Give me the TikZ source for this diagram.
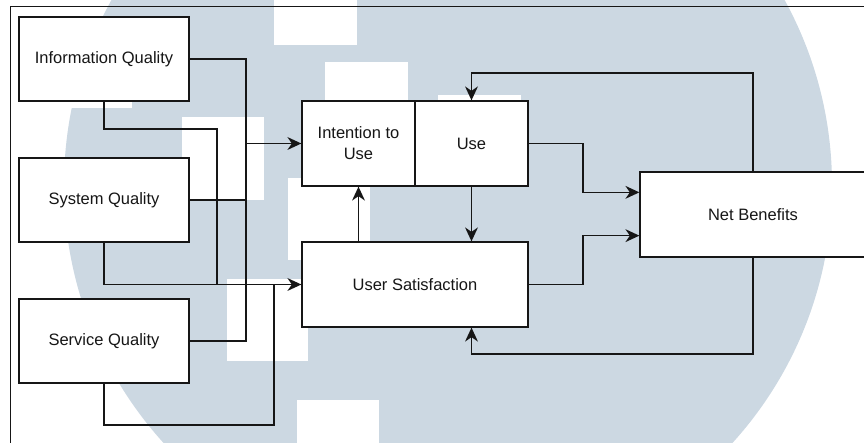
\documentclass[tikz,border=0pt]{standalone}
\usepackage{fontspec}
\setmainfont{Liberation Sans}
\usetikzlibrary{arrows.meta,calc}

\definecolor{wmblue}{RGB}{204,216,226}
\definecolor{ink}{RGB}{22,22,22}

\tikzset{
  box/.style={draw=ink, fill=white, line width=1.3pt, minimum width=226pt,
    minimum height=85pt, inner sep=2pt, align=center, text=ink,
    font=\fontsize{16.5}{21}\selectfont},
  srcbox/.style={box, minimum width=170pt, minimum height=84pt},
  halfbox/.style={box, minimum width=113pt},
  link/.style={draw=ink, line width=1.3pt},
  tipA/.tip={Stealth[length=14pt,width=13pt,inset=4.5pt,line width=0pt]},
  arrow/.style={link, -tipA},
}

\begin{document}
\begin{tikzpicture}[x=1pt, y=-1pt]
\useasboundingbox (0,0) rectangle (864,443);

% background emblem: a pale disc with square cut-outs
\begin{scope}
  \clip (0,0) rectangle (864,443);
  \fill[wmblue] (448,185) circle[radius=384pt];
  \fill[white] (274,0) rectangle (357,45);
  \fill[white] (49,25) rectangle (132,108);
  \fill[white] (325,62) rectangle (408,145);
  \fill[white] (438,95) rectangle (521,178);
  \fill[white] (182,117) rectangle (264,200);
  \fill[white] (288,178) rectangle (370,260);
  \fill[white] (227,279) rectangle (308,361);
  \fill[white] (297,400) rectangle (379,483);
\end{scope}

% outer frame
\draw[ink, line width=1pt] (10,443) -- (10,7) -- (864,7);

% quality boxes
\node[srcbox] (iq)  at (104,59)  {Information Quality};
\node[srcbox] (sq)  at (104,200) {System Quality};
\node[srcbox] (svq) at (104,341) {Service Quality};

% central boxes
\node[halfbox] (itu) at (358.5,143.5) {Intention to\\Use};
\node[halfbox] (use) at (471.5,143.5) {Use};
\node[box] (us) at (415,284.5) {User Satisfaction};
\node[box] (nb) at (753,214.5) {Net Benefits};

% routing points
\coordinate (busA) at (246,59);
\coordinate (busB) at (217,129);
\coordinate (busC) at (274,425);
\coordinate (jU) at (583,143.5);
\coordinate (jS) at (583,284.5);
\coordinate (topR) at (753,73);
\coordinate (botR) at (753,354);
\coordinate (nbA) at ([yshift=-21pt]nb.north west);
\coordinate (nbB) at ([yshift=22pt]nb.south west);

% inputs to Intention to Use
\draw[link] (iq.east) -- (busA) |- (svq.east);
\draw[link] (sq.east) -- (sq.east -| busA);
\draw[arrow] (busA |- itu.west) -- (itu.west);

% inputs to User Satisfaction
\draw[link] (iq.south) |- (busB) -- (busB |- us.west);
\draw[arrow] (sq.south) |- (us.west);
\draw[link] (svq.south) |- (busC) -- (busC |- us.west);

% links between the central boxes
\draw[arrow] (itu.south |- us.north) -- (itu.south);
\draw[arrow] (use.south) -- (use.south |- us.north);

% into Net Benefits
\draw[arrow] (use.east) -- (jU) |- (nbA);
\draw[arrow] (us.east) -- (jS) |- (nbB);

% feedback from Net Benefits
\draw[arrow] (nb.north) -- (topR) -| (use.north);
\draw[arrow] (nb.south) -- (botR) -| (use.south |- us.south);
\end{tikzpicture}
\end{document}
